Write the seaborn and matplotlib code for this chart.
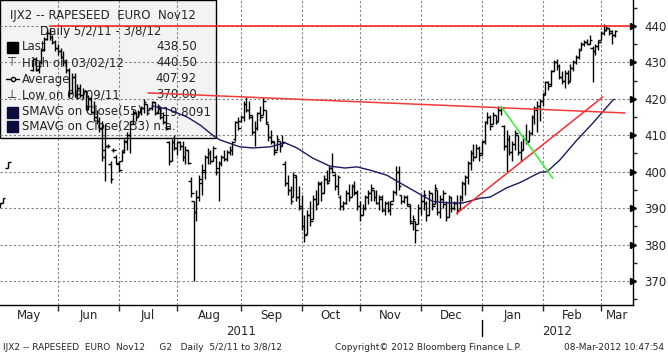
import numpy as np
import pandas as pd
import matplotlib
matplotlib.use('Agg')
import matplotlib.pyplot as plt
import seaborn as sns
from matplotlib.patches import Rectangle
from matplotlib.lines import Line2D

# daily OHLC, IJX2 rapeseed Nov12, 5/2/11 - 3/8/12 (one entry per business day)
nan = np.nan
opens = [390.3, 390.3, 391.4, nan, 401.0, nan, nan, nan, nan, nan, nan, nan, nan, 428.0,
         431.0, 428.0, 430.0, 433.5, 436.5, 438.0, 437.0, 435.5, 434.0, 433.0, 431.5, 430.0,
         428.0, 421.5, 426.0, 421.0, 423.0, 421.0, 422.0, 418.0, 420.0, 416.5, 415.0, 414.0,
         412.0, 406.0, 407.0, 402.0, 406.0, 404.0, 402.0, 403.0, 406.0, 408.0, 410.0, 414.0,
         416.0, 415.0, 416.5, 417.5, 418.5, 417.0, 417.5, 419.0, 416.0, 417.5, 415.0, 413.5,
         408.0, 403.0, 408.0, 406.5, 408.0, 407.0, 404.0, 406.0, 397.5, 392.0, 389.0, 393.0,
         397.0, 400.0, 404.0, 405.0, 403.0, 404.0, 401.0, 402.5, 404.0, 403.5, 405.5, 406.0,
         409.0, 413.5, 414.0, 415.0, 418.5, 417.0, 415.0, 411.0, 412.0, 416.0, 415.5, 417.0,
         413.0, 409.5, 408.0, 406.0, 408.5, 407.0, 402.0, 397.0, 395.0, 393.0, 398.5, 393.0,
         390.0, 385.0, 383.0, 388.0, 387.0, 392.5, 391.0, 396.5, 394.0, 398.0, 397.5, 401.0,
         399.0, 396.0, 393.0, 390.5, 391.5, 394.0, 393.0, 396.0, 394.0, 390.5, 388.0, 390.0,
         393.0, 394.0, 395.0, 393.0, 391.5, 392.5, 389.5, 391.5, 389.5, 392.0, 394.5, 400.0,
         393.5, 392.0, 393.0, 390.5, 386.0, 386.5, 385.5, 390.0, 392.0, 391.5, 388.0, 394.0,
         391.0, 395.0, 389.0, 392.5, 391.0, 387.5, 393.0, 390.0, 391.5, 389.5, 393.0, 396.5,
         398.5, 402.5, 405.0, 404.0, 406.5, 405.0, 408.5, 413.5, 415.0, 413.0, 415.5, 414.0,
         417.0, 412.5, 407.0, 409.0, 405.5, 407.5, 410.0, 405.5, 406.0, 409.0, 408.5, 410.5,
         415.0, 417.0, 418.0, 419.5, 421.5, 424.5, 424.0, 427.5, 430.0, 429.0, 426.0, 425.0,
         427.0, 425.0, 428.5, 430.0, 431.5, 433.5, 435.0, 435.5, 435.0, 434.0, 433.0, 434.5,
         436.0, 438.0, 439.0, 439.5, 438.5, 437.5]
highs = [390.3, 391.4, 392.9, nan, 402.6, nan, nan, nan, nan, nan, nan, nan, nan, 431.5,
         431.5, 430.0, 434.0, 437.0, 439.0, 439.5, 437.5, 436.0, 435.0, 434.0, 433.0, 431.0,
         428.5, 427.0, 427.0, 424.0, 424.0, 423.0, 422.5, 421.0, 420.5, 419.5, 417.0, 415.0,
         414.0, 413.0, 407.5, 403.0, 406.5, 404.5, 403.0, 406.0, 409.0, 411.0, 414.0, 417.0,
         416.5, 417.0, 418.0, 420.0, 418.5, 417.5, 419.5, 419.0, 418.5, 417.5, 416.5, 415.5,
         408.5, 409.0, 410.0, 408.5, 408.5, 408.5, 407.0, 406.0, 398.5, 392.0, 395.0, 399.0,
         402.0, 404.5, 406.5, 406.0, 407.0, 404.5, 403.0, 404.5, 406.0, 406.0, 407.0, 408.5,
         414.0, 415.0, 415.5, 419.5, 420.5, 419.5, 415.5, 414.0, 416.5, 418.0, 420.5, 417.0,
         413.0, 411.5, 408.5, 410.0, 408.5, 410.0, 403.0, 399.0, 396.0, 400.0, 399.0, 396.0,
         393.5, 388.0, 389.5, 392.0, 393.5, 395.0, 397.5, 397.5, 399.0, 400.5, 401.5, 405.0,
         399.5, 399.0, 393.5, 392.0, 395.0, 396.5, 396.5, 397.5, 395.0, 392.0, 391.0, 393.5,
         395.0, 396.5, 395.0, 395.0, 393.5, 393.5, 392.0, 392.0, 392.0, 395.0, 401.5, 401.5,
         393.5, 393.5, 393.5, 391.0, 388.0, 386.5, 391.0, 393.5, 395.0, 392.0, 395.0, 394.0,
         396.5, 395.0, 393.5, 395.0, 392.0, 393.5, 393.0, 392.0, 393.5, 393.5, 397.5, 399.0,
         403.0, 406.0, 407.5, 407.5, 407.0, 408.5, 414.0, 416.5, 415.5, 416.5, 415.5, 418.0,
         418.0, 412.8, 411.5, 410.0, 408.5, 411.5, 410.0, 408.5, 410.0, 413.0, 411.5, 415.5,
         418.0, 419.5, 420.0, 421.5, 425.0, 425.0, 428.0, 430.5, 431.0, 429.5, 427.5, 428.0,
         428.0, 429.5, 430.5, 432.0, 434.0, 435.5, 436.0, 436.5, 437.5, 434.5, 435.0, 436.0,
         438.5, 440.5, 440.0, 439.5, 439.0, 439.0]
lows = [390.3, 390.3, 391.4, nan, 401.0, nan, nan, nan, nan, nan, nan, nan, nan, 427.5,
        427.5, 427.0, 429.5, 433.0, 436.0, 436.0, 435.0, 433.0, 432.0, 431.0, 429.0, 427.0,
        420.5, 421.5, 420.5, 420.0, 420.5, 420.0, 417.0, 417.0, 416.0, 414.0, 413.0, 411.0,
        403.0, 397.5, 406.5, 397.0, 405.5, 402.0, 400.0, 403.0, 405.0, 406.0, 405.0, 413.0,
        414.0, 415.0, 415.5, 416.0, 415.5, 417.0, 417.0, 415.5, 416.0, 414.5, 413.0, 411.5,
        401.8, 403.0, 406.0, 404.5, 406.0, 403.0, 402.0, 402.0, 393.0, 370.0, 386.5, 392.0,
        393.5, 398.0, 402.0, 402.0, 403.0, 399.0, 392.0, 401.5, 403.0, 403.0, 404.5, 404.5,
        408.5, 411.5, 413.5, 414.0, 416.5, 414.5, 410.0, 407.0, 411.5, 414.0, 415.5, 413.0,
        408.5, 407.5, 404.5, 406.0, 405.5, 407.0, 396.0, 393.5, 391.0, 393.0, 392.0, 389.5,
        384.0, 380.7, 383.0, 385.0, 387.0, 389.5, 391.0, 392.0, 394.0, 396.5, 397.5, 399.5,
        395.0, 393.5, 389.5, 389.5, 391.0, 392.0, 393.0, 393.5, 389.5, 386.5, 388.0, 389.5,
        391.0, 392.0, 392.0, 391.0, 389.5, 389.0, 388.0, 389.0, 388.0, 392.0, 393.5, 395.0,
        391.0, 391.5, 390.5, 385.5, 384.0, 380.3, 385.5, 388.0, 389.5, 386.5, 388.0, 389.5,
        391.0, 388.0, 387.3, 390.0, 386.5, 387.5, 389.0, 389.5, 388.5, 389.5, 392.0, 393.5,
        396.5, 400.5, 403.0, 404.0, 403.0, 404.5, 407.5, 413.0, 411.5, 413.0, 413.0, 414.0,
        415.5, 406.0, 400.0, 404.5, 403.0, 406.0, 404.5, 403.0, 406.0, 407.5, 408.5, 410.0,
        413.0, 411.0, 414.0, 418.0, 421.0, 422.5, 423.5, 427.5, 428.0, 425.5, 424.0, 423.0,
        424.0, 425.0, 427.5, 429.5, 431.0, 433.5, 434.5, 435.0, 435.0, 424.5, 432.0, 433.5,
        436.0, 437.5, 438.5, 437.5, 435.0, 437.0]
closes = [390.3, 391.4, 392.9, nan, 402.6, nan, nan, nan, nan, nan, nan, nan, nan, 431.0,
          428.0, 429.0, 433.5, 436.5, 438.0, 437.0, 435.5, 434.0, 433.0, 431.5, 430.0, 428.0,
          421.5, 426.0, 421.0, 423.0, 421.0, 422.0, 418.0, 420.0, 416.5, 415.0, 414.0, 412.0,
          404.0, 407.0, 407.0, 398.0, 406.0, 402.5, 400.5, 405.5, 408.5, 410.0, 413.0, 416.5,
          415.0, 416.5, 417.5, 419.0, 416.0, 417.5, 419.0, 416.0, 418.0, 415.0, 413.5, 412.0,
          403.0, 408.0, 406.5, 408.0, 407.0, 404.0, 406.0, 402.5, 394.0, 389.0, 393.0, 398.0,
          400.5, 404.0, 405.0, 403.0, 406.5, 400.0, 402.5, 404.0, 403.5, 405.5, 406.0, 408.0,
          413.5, 412.0, 415.0, 418.5, 417.0, 415.5, 411.0, 412.0, 416.0, 415.0, 419.5, 413.5,
          409.5, 408.5, 405.5, 409.0, 407.0, 408.0, 397.0, 395.0, 392.0, 399.0, 393.0, 390.5,
          385.0, 382.5, 388.0, 386.5, 392.5, 391.0, 397.0, 394.0, 398.0, 397.0, 401.0, 400.0,
          396.0, 398.5, 390.5, 391.5, 394.0, 393.0, 396.0, 394.5, 390.5, 388.0, 390.0, 393.0,
          394.0, 395.5, 393.0, 391.5, 393.0, 389.5, 391.5, 389.5, 391.0, 394.5, 400.0, 396.0,
          392.0, 393.0, 391.0, 386.5, 387.0, 384.0, 390.0, 392.0, 393.5, 388.0, 394.0, 390.5,
          395.5, 389.0, 392.5, 394.0, 387.5, 393.0, 390.0, 391.5, 389.5, 393.0, 397.0, 398.5,
          402.5, 405.0, 404.0, 406.5, 404.5, 408.0, 413.5, 415.0, 412.5, 415.5, 413.5, 417.0,
          417.5, 407.0, 409.0, 405.5, 407.5, 410.5, 405.5, 406.0, 409.0, 408.0, 410.5, 415.0,
          417.5, 418.0, 419.5, 421.0, 424.5, 423.5, 427.5, 430.0, 429.0, 426.0, 425.0, 427.0,
          424.5, 428.5, 430.0, 431.5, 433.5, 435.0, 435.5, 435.0, 436.0, 433.0, 434.5, 435.5,
          438.0, 439.0, 439.5, 438.0, 437.5, 438.5]

# 55-day simple moving average (day index, value)
sma55_day = [56, 61.4, 68.6, 73.3, 78.7, 80.5, 87.7, 92.4, 98.6, 104, 108.3, 114, 120.2,
             125.6, 130, 134.7, 140.8, 145.5, 152.7, 157.4, 163.5, 168.2, 174.4, 178, 184.1,
             188.8, 196, 198.6, 203.2, 209.4, 215.2, 222.4, 223]
sma55_val = [418.0, 417.2, 415.0, 412.8, 409.5, 408.7, 406.8, 406.5, 406.8, 407.9, 406.5,
             403.7, 401.5, 401.0, 401.3, 400.4, 399.0, 396.9, 393.8, 391.8, 391.4, 391.4,
             392.7, 393.0, 395.6, 397.0, 399.8, 400.0, 403.2, 408.7, 413.4, 419.7, 419.8]

# hand drawn trend lines (day index, price)
res_flat_x, res_flat_y = [19, 232], [440.0, 440.0]
res_down_x, res_down_y = [54.5, 226.7], [421.6, 416.1]
sup_up_x, sup_up_y = [166, 218.7], [388.6, 420.5]
chan_x, chan_y = [182, 200.6], [417.8, 398.2]

month_names = ['May', 'Jun', 'Jul', 'Aug', 'Sep', 'Oct', 'Nov', 'Dec', 'Jan', 'Feb', 'Mar']
price_ticks = [370, 380, 390, 400, 410, 420, 430, 440]

days = pd.bdate_range('2011-05-02', '2012-03-08')
n = len(days)
idx = np.arange(n)
df = pd.DataFrame({'i': idx, 'open': opens[:n], 'high': highs[:n],
                   'low': lows[:n], 'close': closes[:n]})

month_key = days.year * 12 + days.month
month_starts = list(np.flatnonzero(np.diff(month_key)) + 1)
x_left, x_right = 1.08, 229.6
bounds = [x_left] + month_starts + [x_right]
month_mid = [(bounds[k] + bounds[k + 1]) / 2 for k in range(len(bounds) - 1)]
jan_start = month_starts[7]

sns.set_style('white')
plt.rcParams['font.family'] = ['DejaVu Sans']

W, H = 668, 355
fig = plt.figure(figsize=(W / 100, H / 100), dpi=100)
AW, AH = 633, 305
ax = fig.add_axes([0, (H - AH) / H, AW / W, AH / H])
ax.set_xlim(x_left, x_right)
ax.set_ylim(363.4, 447.1)

def ax_pt(px, py):
    return px / AW, 1 - py / AH

# legend box (bars and grid sit on top of it)
ax.add_patch(Rectangle(ax_pt(0, 138), 216 / AW, 138 / AH, transform=ax.transAxes,
                       facecolor='#f3f3f3', edgecolor='black', lw=1, zorder=1, clip_on=False))

# grid
for y in price_ticks:
    ax.axhline(y, color='#808080', lw=0.8, ls=(0, (2, 2)), zorder=1.5)
for m in month_starts:
    ax.axvline(m, color='#808080', lw=0.8, ls=(0, (2, 2)), zorder=1.5)

# OHLC bars
ax.vlines(df['i'], df['low'], df['high'], color='black', lw=1, zorder=3)
ax.hlines(df['open'], df['i'] - 0.95, df['i'], color='black', lw=1, zorder=3)
ax.hlines(df['close'], df['i'], df['i'] + 0.95, color='black', lw=1, zorder=3)

sns.lineplot(x=sma55_day, y=sma55_val, ax=ax, color='#1b1b5e', lw=1, zorder=4)

ax.plot(res_flat_x, res_flat_y, color='#ff1a1a', lw=1.1, zorder=4)
ax.plot(res_down_x, res_down_y, color='#f23a3a', lw=1.1, zorder=4)
ax.plot(sup_up_x, sup_up_y, color='#ff2a2a', lw=1.1, zorder=4)
ax.plot(chan_x, chan_y, color='#3ef03e', lw=1.2, zorder=4)

# axes styling
for s in ['left', 'top']:
    ax.spines[s].set_visible(False)
for s in ['right', 'bottom']:
    ax.spines[s].set_color('black')
    ax.spines[s].set_linewidth(1)
ax.yaxis.tick_right()
ax.set_yticks(price_ticks)
ax.set_yticklabels([str(p) for p in price_ticks], fontsize=8.5)
ax.set_yticks(np.arange(365, 450, 10), minor=True)
ax.tick_params(axis='y', which='major', length=0, pad=8)
ax.tick_params(axis='y', which='minor', length=3, width=1, direction='out', right=True)
ax.plot([1.0] * len(price_ticks), price_ticks, marker='>', ms=4, ls='none', color='black',
        transform=ax.get_yaxis_transform(), clip_on=False, zorder=5)

ax.set_xticks(month_mid)
ax.set_xticklabels(month_names, fontsize=8.5)
ax.set_xticks(month_starts, minor=True)
ax.tick_params(axis='x', which='major', length=0, pad=3)
ax.tick_params(axis='x', which='minor', length=4, width=1, direction='out', bottom=True)
ax.set_xlabel('')
ax.set_ylabel('')

xt = ax.get_xaxis_transform()
ax.text((x_left + jan_start) / 2, -0.088, '2011', transform=xt, ha='center', va='center', fontsize=8.5)
ax.text((jan_start + x_right) / 2, -0.088, '2012', transform=xt, ha='center', va='center', fontsize=8.5)
ax.plot([jan_start, jan_start], [-0.05, -0.1], color='black', lw=1, transform=xt, clip_on=False)

# legend text
lz = 2
def lt(px, py, s, ha='left'):
    x, y = ax_pt(px, py)
    ax.text(x, y, s, transform=ax.transAxes, ha=ha, va='center', fontsize=8.5, zorder=lz)

lt(10, 15, 'IJX2 -- RAPESEED  EURO  Nov12')
lt(40, 32, 'Daily 5/2/11 - 3/8/12')
lt(22, 47, 'Last')
lt(197, 47, '438.50', ha='right')
lt(22, 63, 'High on 03/02/12')
lt(197, 63, '440.50', ha='right')
lt(22, 79, 'Average')
lt(197, 79, '407.92', ha='right')
lt(22, 95, 'Low on 08/09/11')
lt(197, 95, '370.00', ha='right')
lt(22, 112, 'SMAVG on Close(55)')
lt(211, 112, '419.8091', ha='right')
lt(22, 127, 'SMAVG on Close(233) n.a.')
for py, col in [(47, 'black'), (112, '#0b0b3d'), (127, '#0b0b3d')]:
    ax.add_patch(Rectangle(ax_pt(7, py + 5.5), 11 / AW, 11 / AH, transform=ax.transAxes,
                           facecolor=col, edgecolor=col, zorder=lz, clip_on=False))
lt(7.5, 63, '\u22a4')
lt(7.5, 95, '\u22a5')
a0, a1 = ax_pt(6, 79), ax_pt(19, 79)
ax.add_line(Line2D([a0[0], a1[0]], [a0[1], a1[1]], transform=ax.transAxes, color='black',
                   lw=1, zorder=lz))
ax.add_line(Line2D([ax_pt(12.5, 79)[0]], [a0[1]], transform=ax.transAxes, marker='o', ms=3,
                   mfc='white', mec='black', zorder=lz))

# footer
foot = dict(fontsize=6.5, va='center', family=['Liberation Sans Narrow', 'DejaVu Sans'])
fig.text(3 / W, 7 / H, 'IJX2 -- RAPESEED  EURO  Nov12     G2   Daily  5/2/11 to 3/8/12', ha='left', **foot)
fig.text(428 / W, 7 / H, 'Copyright\u00a9 2012 Bloomberg Finance L.P.', ha='center', **foot)
fig.text(664 / W, 7 / H, '08-Mar-2012 10:47:54', ha='right', **foot)

fig.savefig('out.png', dpi=100)
